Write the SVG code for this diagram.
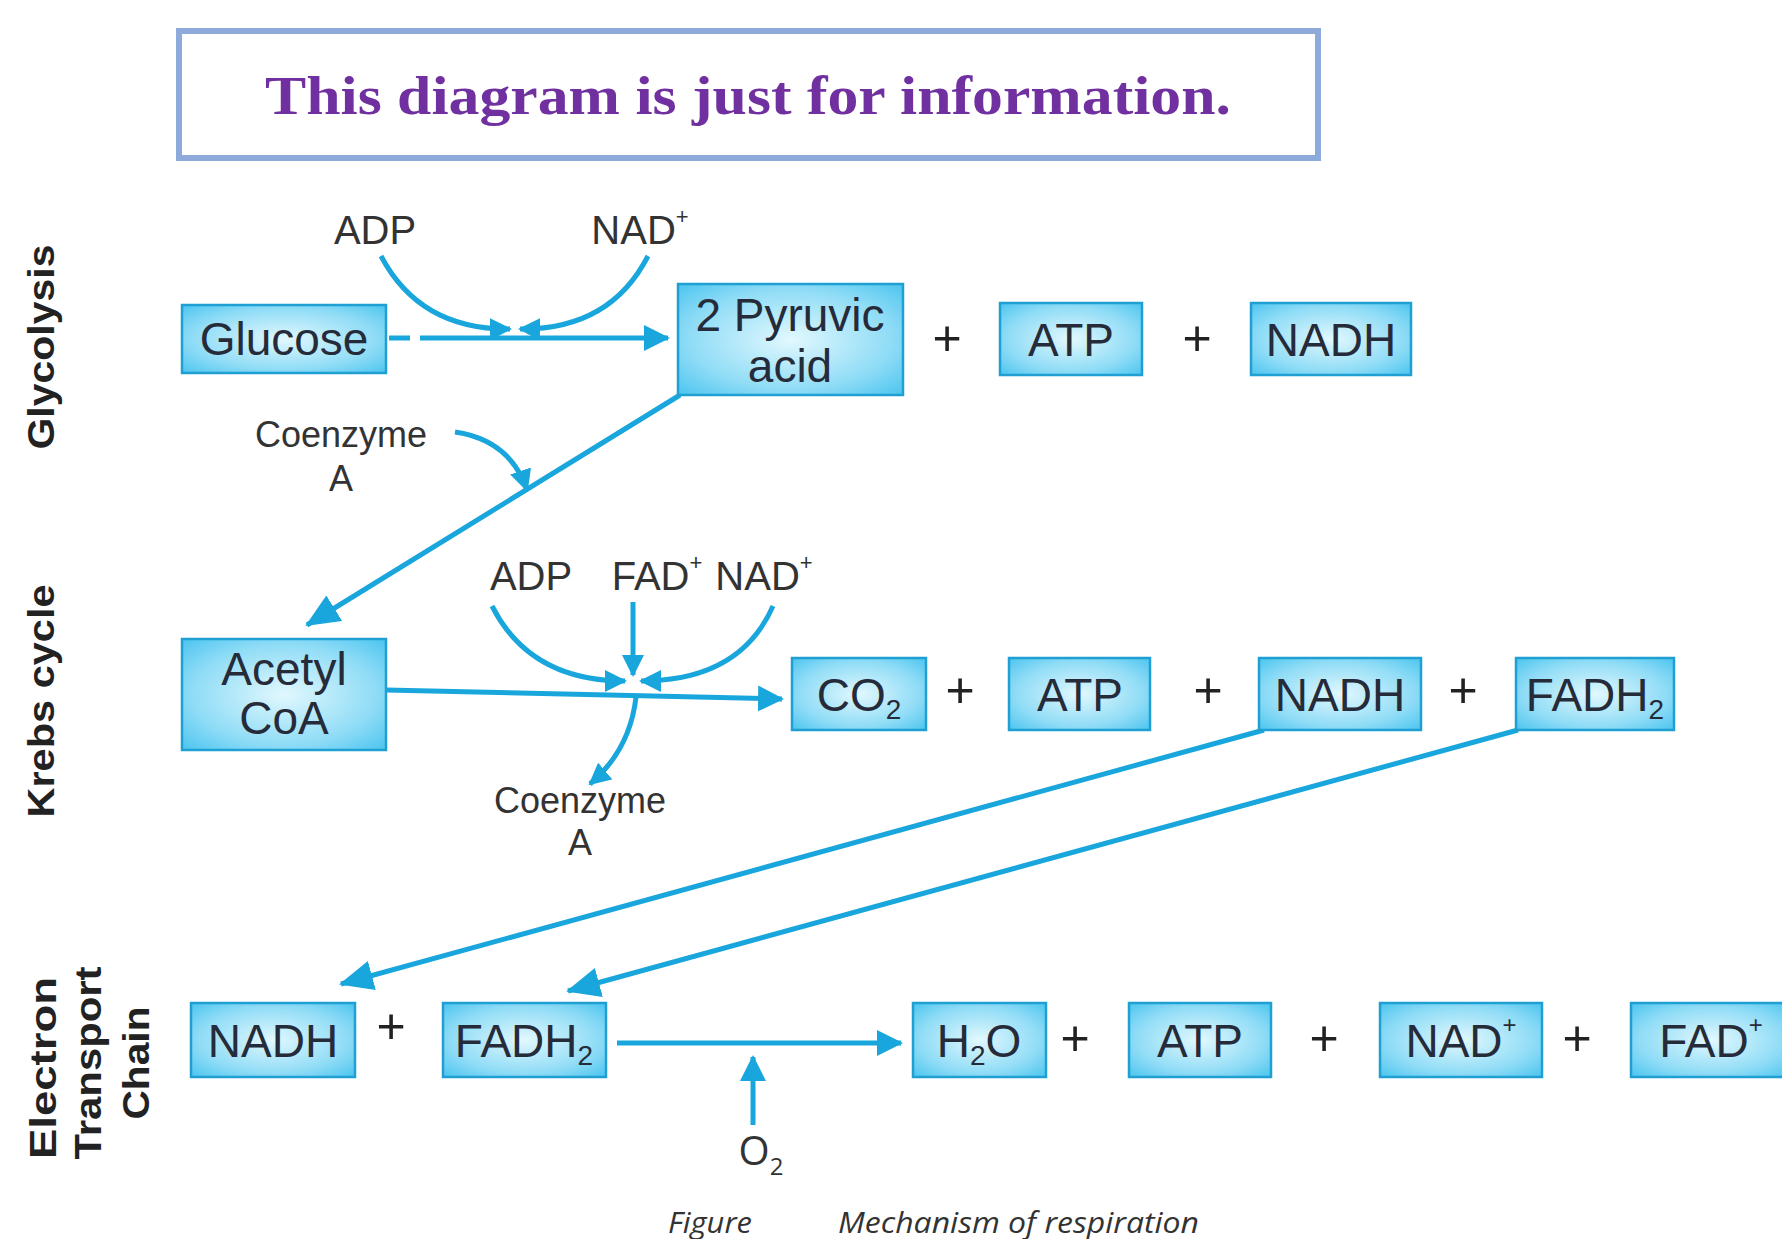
<svg xmlns="http://www.w3.org/2000/svg" width="1782" height="1239" viewBox="0 0 1782 1239">
<style>
.box{fill:url(#bg);stroke:#1f9fd2;stroke-width:2.5}
.bt{font-family:"Liberation Sans",Arial,sans-serif;font-size:46px;fill:#262b3a;text-anchor:middle}
.lbl{font-family:"Liberation Sans",Arial,sans-serif;font-size:40px;fill:#333;text-anchor:middle}
.sm{font-family:"Liberation Sans",Arial,sans-serif;font-size:36px;fill:#333;text-anchor:middle}
.plus{font-family:"Liberation Sans",Arial,sans-serif;font-size:50px;fill:#222;text-anchor:middle}
.side{font-family:"Liberation Sans",Arial,sans-serif;font-size:36px;font-weight:bold;fill:#222;text-anchor:middle}
.ln{fill:none;stroke:#19a6dc;stroke-width:5}
.cap{font-family:"Open Sans",sans-serif;font-style:italic;font-size:30px;fill:#333}
</style>
<defs>
<radialGradient id="bg" cx="0.5" cy="0.5" r="0.75">
<stop offset="0" stop-color="#e2f8fe"/>
<stop offset="0.6" stop-color="#8fdcf6"/>
<stop offset="1" stop-color="#3fc0ee"/>
</radialGradient>
<marker id="ah" markerUnits="userSpaceOnUse" markerWidth="26" markerHeight="26" refX="24" refY="13" orient="auto" viewBox="0 0 26 26">
<path d="M0,0 L26,13 L0,26 z" fill="#19a6dc"/>
</marker>
<marker id="ahs" markerUnits="userSpaceOnUse" markerWidth="22" markerHeight="22" refX="20" refY="11" orient="auto" viewBox="0 0 22 22">
<path d="M0,0 L22,11 L0,22 z" fill="#19a6dc"/>
</marker>
<marker id="ahb" markerUnits="userSpaceOnUse" markerWidth="34" markerHeight="30" refX="32" refY="15" orient="auto" viewBox="0 0 34 30">
<path d="M0,0 L34,15 L0,30 z" fill="#19a6dc"/>
</marker>
</defs>
<rect width="1782" height="1239" fill="#fff"/>

<g id="title">
<rect x="179" y="31" width="1139" height="127" fill="#fff" stroke="#8eaadb" stroke-width="6"/>
<text x="748" y="114" font-family="Liberation Serif,serif" font-weight="bold" font-size="55" fill="#7030a0" text-anchor="middle" textLength="966" lengthAdjust="spacingAndGlyphs">This diagram is just for information.</text>
</g>

<g id="side-labels">
<text class="side" transform="translate(54,347) rotate(-90)" textLength="205" lengthAdjust="spacingAndGlyphs">Glycolysis</text>
<text class="side" transform="translate(54,701) rotate(-90)" textLength="233" lengthAdjust="spacingAndGlyphs">Krebs cycle</text>
<text class="side" transform="translate(56,1068) rotate(-90)" textLength="182" lengthAdjust="spacingAndGlyphs">Electron</text>
<text class="side" transform="translate(101,1063) rotate(-90)" textLength="193" lengthAdjust="spacingAndGlyphs">Transport</text>
<text class="side" transform="translate(149,1063) rotate(-90)" textLength="113" lengthAdjust="spacingAndGlyphs">Chain</text>
</g>

<g id="connectors">
<path class="ln" d="M389,338 L410,338"/>
<path class="ln" d="M420,338 L668,338" marker-end="url(#ah)"/>
<path class="ln" d="M381,256 Q420,330 510,329" marker-end="url(#ahs)"/>
<path class="ln" d="M648,256 Q610,330 520,329" marker-end="url(#ahs)"/>
<path class="ln" d="M680,395 L307,625" marker-end="url(#ahb)"/>
<path class="ln" d="M455,432 Q510,440 527,490" marker-end="url(#ahs)"/>
<path class="ln" d="M386,690 L782,699" marker-end="url(#ah)"/>
<path class="ln" d="M492,606 Q530,681 625,681" marker-end="url(#ahs)"/>
<path class="ln" d="M773,606 Q740,681 641,681" marker-end="url(#ahs)"/>
<path class="ln" d="M633,602 L633,675" marker-end="url(#ahs)"/>
<path class="ln" d="M636,697 Q630,750 590,784" marker-end="url(#ahs)"/>
<path class="ln" d="M1264,730 L341,984" marker-end="url(#ahb)"/>
<path class="ln" d="M1518,730 L568,991" marker-end="url(#ahb)"/>
<path class="ln" d="M617,1043 L901,1043" marker-end="url(#ah)"/>
<path class="ln" d="M753,1125 L753,1057" marker-end="url(#ah)"/>
</g>

<g id="labels">
<text class="lbl" x="375" y="244">ADP</text>
<text class="lbl" x="640" y="244">NAD<tspan font-size="22" dy="-20">+</tspan></text>
<text class="sm" x="341" y="447">Coenzyme</text>
<text class="sm" x="341" y="491">A</text>
<text class="lbl" x="531" y="590">ADP</text>
<text class="lbl" x="657" y="590">FAD<tspan font-size="22" dy="-20">+</tspan></text>
<text class="lbl" x="764" y="590">NAD<tspan font-size="22" dy="-20">+</tspan></text>
<text class="sm" x="580" y="813">Coenzyme</text>
<text class="sm" x="580" y="855">A</text>
<text x="761" y="1165" font-family="Open Sans,sans-serif" font-size="40" fill="#333" text-anchor="middle">O<tspan font-size="24" dy="10">2</tspan></text>
</g>

<g id="plus-signs">
<text class="plus" x="947" y="355">+</text>
<text class="plus" x="1197" y="355">+</text>
<text class="plus" x="960" y="707">+</text>
<text class="plus" x="1208" y="707">+</text>
<text class="plus" x="1463" y="707">+</text>
<text class="plus" x="391" y="1043">+</text>
<text class="plus" x="1075" y="1055">+</text>
<text class="plus" x="1324" y="1055">+</text>
<text class="plus" x="1577" y="1055">+</text>
</g>

<g id="glucose"><rect class="box" x="182" y="305" width="204" height="68"/><text class="bt" x="284" y="355">Glucose</text></g>
<g id="pyruvic"><rect class="box" x="678" y="284" width="225" height="111"/><text class="bt" x="790" y="331">2 Pyruvic</text><text class="bt" x="790" y="382">acid</text></g>
<g id="atp1"><rect class="box" x="1000" y="303" width="142" height="72"/><text class="bt" x="1071" y="356">ATP</text></g>
<g id="nadh1"><rect class="box" x="1251" y="303" width="160" height="72"/><text class="bt" x="1331" y="356">NADH</text></g>

<g id="acetyl"><rect class="box" x="182" y="639" width="204" height="111"/><text class="bt" x="284" y="685">Acetyl</text><text class="bt" x="284" y="734">CoA</text></g>
<g id="co2"><rect class="box" x="792" y="658" width="134" height="72"/><text class="bt" x="859" y="711">CO<tspan font-size="28" dy="8">2</tspan></text></g>
<g id="atp2"><rect class="box" x="1009" y="658" width="141" height="72"/><text class="bt" x="1080" y="711">ATP</text></g>
<g id="nadh2"><rect class="box" x="1259" y="658" width="162" height="72"/><text class="bt" x="1340" y="711">NADH</text></g>
<g id="fadh2"><rect class="box" x="1516" y="658" width="158" height="72"/><text class="bt" x="1595" y="711">FADH<tspan font-size="28" dy="8">2</tspan></text></g>

<g id="nadh3"><rect class="box" x="191" y="1003" width="164" height="74"/><text class="bt" x="273" y="1057">NADH</text></g>
<g id="fadh3"><rect class="box" x="443" y="1003" width="163" height="74"/><text class="bt" x="524" y="1057">FADH<tspan font-size="28" dy="8">2</tspan></text></g>
<g id="h2o"><rect class="box" x="913" y="1003" width="133" height="74"/><text class="bt" x="979" y="1057">H<tspan font-size="28" dy="8">2</tspan><tspan dy="-8">O</tspan></text></g>
<g id="atp3"><rect class="box" x="1129" y="1003" width="142" height="74"/><text class="bt" x="1200" y="1057">ATP</text></g>
<g id="nad3"><rect class="box" x="1380" y="1003" width="162" height="74"/><text class="bt" x="1461" y="1057">NAD<tspan font-size="24" dy="-24">+</tspan></text></g>
<g id="fad3"><rect class="box" x="1631" y="1003" width="160" height="74"/><text class="bt" x="1711" y="1057">FAD<tspan font-size="24" dy="-24">+</tspan></text></g>

<g id="caption">
<text class="cap" x="668" y="1233" textLength="84" lengthAdjust="spacingAndGlyphs">Figure</text>
<text class="cap" x="838" y="1233" textLength="361" lengthAdjust="spacingAndGlyphs">Mechanism of respiration</text>
</g>
</svg>
